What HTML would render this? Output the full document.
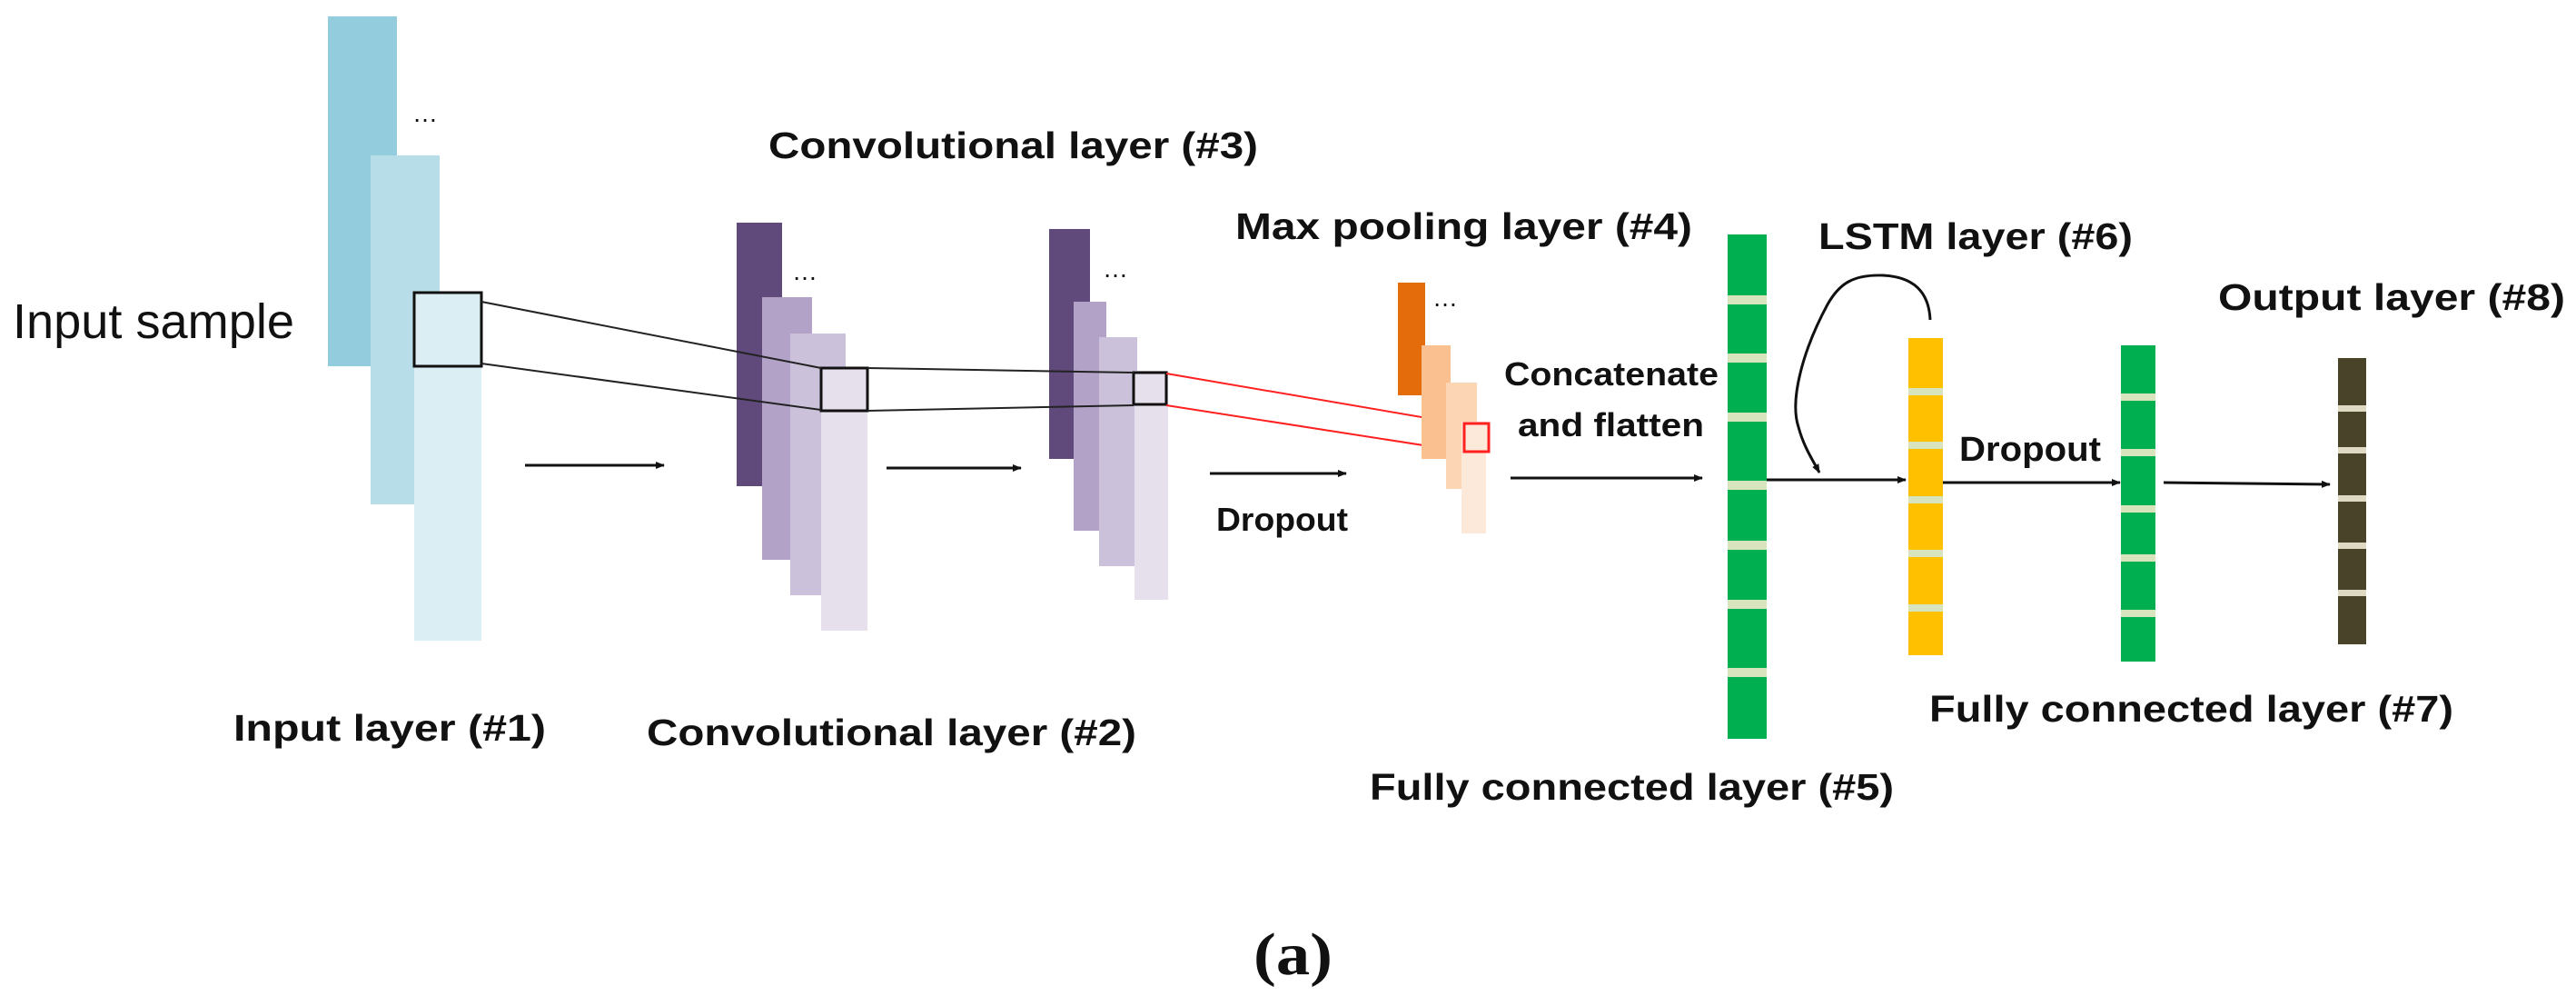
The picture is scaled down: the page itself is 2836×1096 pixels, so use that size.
<!DOCTYPE html>
<html><head><meta charset="utf-8"><style>
html,body{margin:0;padding:0;background:#fff;}
svg{display:block;}
text{font-family:"Liberation Sans",sans-serif;fill:#111;}
.b{font-weight:bold;font-size:41px;}
</style></head><body>
<svg width="2836" height="1096" viewBox="0 0 2836 1096" xmlns="http://www.w3.org/2000/svg">
<defs>
<marker id="ah" markerWidth="10" markerHeight="10" refX="9" refY="5" orient="auto" markerUnits="userSpaceOnUse"><path d="M0,1 L10,5 L0,9 z" fill="#111"/></marker>
</defs>
<!-- Input layer -->
<rect x="361" y="18" width="76" height="385" fill="#93CDDD"/>
<rect x="408" y="171" width="76" height="384" fill="#B7DEE8"/>
<rect x="456" y="403" width="74" height="302" fill="#DAEEF3"/>
<rect x="456" y="322" width="74" height="81" fill="#DAEEF3" stroke="#111" stroke-width="3"/>
<text x="454" y="134" style="font-size:28px">…</text>
<text x="14" y="372" style="font-size:54px" textLength="310" lengthAdjust="spacingAndGlyphs">Input sample</text>

<!-- Conv 2 -->
<rect x="811" y="245" width="50" height="290" fill="#604A7B"/>
<rect x="839" y="327" width="55" height="289" fill="#B3A2C7"/>
<rect x="870" y="367" width="61" height="288" fill="#CCC1DA"/>
<rect x="904" y="405" width="51" height="289" fill="#E6E0EC"/>
<rect x="904" y="405" width="51" height="47" fill="#E6E0EC" stroke="#111" stroke-width="3"/>
<text x="872" y="308" style="font-size:28px">…</text>

<!-- Conv 3 -->
<rect x="1155" y="252" width="45" height="253" fill="#604A7B"/>
<rect x="1182" y="332" width="36" height="252" fill="#B3A2C7"/>
<rect x="1210" y="371" width="42" height="252" fill="#CCC1DA"/>
<rect x="1249" y="408" width="37" height="252" fill="#E6E0EC"/>
<rect x="1248" y="410" width="36" height="35" fill="#E6E0EC" stroke="#111" stroke-width="3"/>
<text x="1214" y="305" style="font-size:28px">…</text>

<!-- projection lines -->
<g stroke="#222" stroke-width="2" fill="none">
<line x1="530" y1="332" x2="904" y2="405"/>
<line x1="530" y1="400" x2="904" y2="451"/>
<line x1="955" y1="405" x2="1248" y2="410"/>
<line x1="955" y1="452" x2="1248" y2="446"/>
</g>
<g stroke="#FF2020" stroke-width="2" fill="none">
<line x1="1284" y1="411" x2="1612" y2="467"/>
<line x1="1284" y1="446" x2="1612" y2="497"/>
</g>

<!-- Max pool -->
<rect x="1539" y="311" width="30" height="124" fill="#E46C0A"/>
<rect x="1565" y="380" width="32" height="125" fill="#FAC090"/>
<rect x="1592" y="421" width="34" height="117" fill="#FCD5B5"/>
<rect x="1609" y="464" width="27" height="123" fill="#FDE9D9"/>
<rect x="1612" y="466" width="27" height="31" fill="#FDE9D9" stroke="#FF2020" stroke-width="3"/>
<text x="1577" y="337" style="font-size:28px">…</text>

<!-- arrows -->
<g stroke="#111" stroke-width="3" fill="none" marker-end="url(#ah)">
<line x1="578" y1="512" x2="731" y2="512"/>
<line x1="976" y1="515" x2="1124" y2="515"/>
<line x1="1332" y1="521" x2="1482" y2="521"/>
<line x1="1663" y1="526" x2="1874" y2="526"/>
<line x1="1945" y1="528" x2="2098" y2="528"/>
<line x1="2139" y1="531" x2="2334" y2="531"/>
<line x1="2382" y1="531" x2="2565" y2="533"/>
<path d="M2125,352 C2124,330 2115,305 2073,303 C2040,302 2025,312 2012,335 C1985,385 1970,440 1980,470 C1986,492 1995,505 2003,520"/>
</g>

<!-- FC5 -->
<rect x="1902" y="258" width="43" height="555" fill="#00B050"/>
<g fill="#D7E4BD">
<rect x="1902" y="325" width="43" height="10"/><rect x="1902" y="389" width="43" height="10"/>
<rect x="1902" y="454" width="43" height="10"/><rect x="1902" y="529" width="43" height="10"/>
<rect x="1902" y="595" width="43" height="10"/><rect x="1902" y="660" width="43" height="10"/>
<rect x="1902" y="735" width="43" height="10"/>
</g>
<!-- LSTM -->
<rect x="2101" y="372" width="38" height="349" fill="#FFC000"/>
<g fill="#D7E4BD">
<rect x="2101" y="427" width="38" height="8"/><rect x="2101" y="486" width="38" height="8"/>
<rect x="2101" y="546" width="38" height="8"/><rect x="2101" y="605" width="38" height="8"/>
<rect x="2101" y="665" width="38" height="8"/>
</g>
<!-- FC7 -->
<rect x="2335" y="380" width="38" height="348" fill="#00B050"/>
<g fill="#D7E4BD">
<rect x="2335" y="433" width="38" height="8"/><rect x="2335" y="494" width="38" height="8"/>
<rect x="2335" y="556" width="38" height="8"/><rect x="2335" y="610" width="38" height="8"/>
<rect x="2335" y="671" width="38" height="8"/>
</g>
<!-- Output -->
<rect x="2574" y="394" width="31" height="315" fill="#494429"/>
<g fill="#DDD9C3">
<rect x="2574" y="446" width="31" height="7"/><rect x="2574" y="492" width="31" height="7"/>
<rect x="2574" y="545" width="31" height="7"/><rect x="2574" y="597" width="31" height="7"/>
<rect x="2574" y="649" width="31" height="7"/>
</g>

<!-- labels -->
<text class="b" x="846" y="174" textLength="539" lengthAdjust="spacingAndGlyphs">Convolutional layer (#3)</text>
<text class="b" x="257" y="815" textLength="344" lengthAdjust="spacingAndGlyphs">Input layer (#1)</text>
<text class="b" x="712" y="820" textLength="539" lengthAdjust="spacingAndGlyphs">Convolutional layer (#2)</text>
<text class="b" x="1360" y="263" textLength="503" lengthAdjust="spacingAndGlyphs">Max pooling layer (#4)</text>
<text class="b" x="1339" y="584" style="font-size:36px" textLength="145" lengthAdjust="spacingAndGlyphs">Dropout</text>
<text class="b" x="1656" y="424" style="font-size:36px" textLength="236" lengthAdjust="spacingAndGlyphs">Concatenate</text>
<text class="b" x="1671" y="480" style="font-size:36px" textLength="205" lengthAdjust="spacingAndGlyphs">and flatten</text>
<text class="b" x="2002" y="274" textLength="346" lengthAdjust="spacingAndGlyphs">LSTM layer (#6)</text>
<text class="b" x="2157" y="507" style="font-size:38px" textLength="156" lengthAdjust="spacingAndGlyphs">Dropout</text>
<text class="b" x="2442" y="341" textLength="382" lengthAdjust="spacingAndGlyphs">Output layer (#8)</text>
<text class="b" x="2124" y="794" textLength="577" lengthAdjust="spacingAndGlyphs">Fully connected layer (#7)</text>
<text class="b" x="1508" y="880" textLength="577" lengthAdjust="spacingAndGlyphs">Fully connected layer (#5)</text>
<text x="1380" y="1072" style="font-family:'Liberation Serif',serif;font-weight:bold;font-size:66px" textLength="87" lengthAdjust="spacingAndGlyphs">(a)</text>
</svg>
</body></html>
